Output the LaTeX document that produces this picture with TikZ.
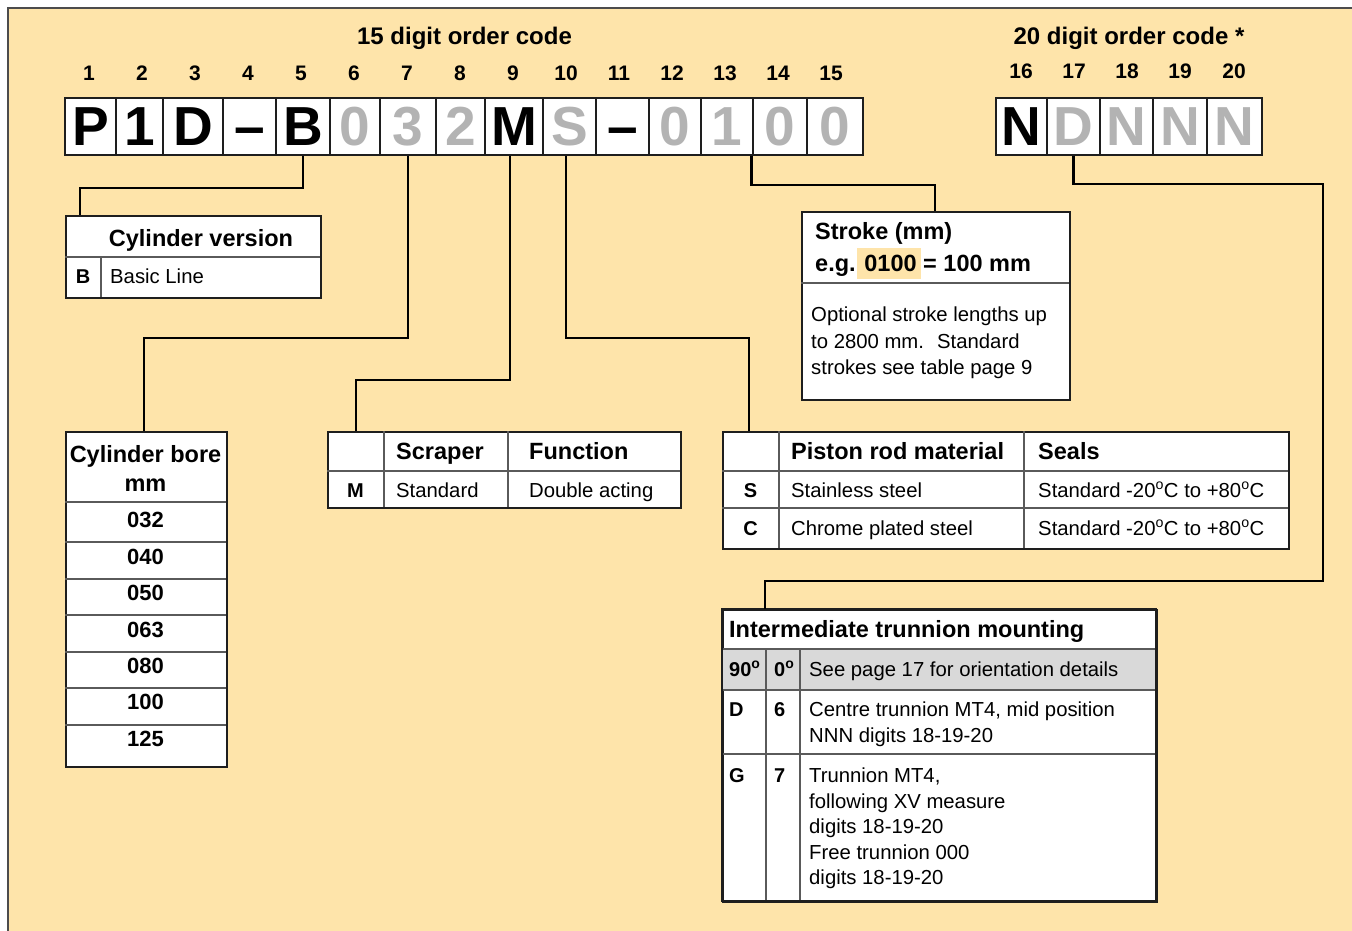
\documentclass[tikz,border=0pt]{standalone}
\usepackage{fontspec}
\setmainfont{Liberation Sans}
\usetikzlibrary{calc}
\definecolor{bg}{RGB}{254,228,170}
\definecolor{digitgray}{RGB}{179,179,179}
\definecolor{rowgray}{RGB}{217,217,217}
\definecolor{edge}{RGB}{30,30,30}
\definecolor{sepc}{RGB}{90,90,90}
\newcommand\dg{\textsuperscript{o}}
\begin{document}
\begin{tikzpicture}[x=1pt,y=-1pt,
  cell/.style={draw=edge, fill=white, line width=1.2pt, minimum height=57pt, inner sep=0pt,
    text height=39pt, text depth=0pt, font=\fontsize{55}{60}\selectfont\bfseries},
  num/.style={anchor=base, inner sep=0pt, font=\fontsize{21}{25}\selectfont\bfseries},
  ttl/.style={anchor=base, inner sep=0pt, font=\fontsize{24}{28}\selectfont\bfseries},
  tbox/.style={draw=edge, fill=white, line width=1.6pt, anchor=north west, inner sep=0pt},
  sepl/.style={draw=sepc, line width=1.2pt},
  hb/.style={anchor=base west, inner sep=0pt, font=\fontsize{23.5}{27}\selectfont\bfseries},
  hbc/.style={anchor=base, inner sep=0pt, font=\fontsize{23.5}{27}\selectfont\bfseries},
  tx/.style={anchor=base west, inner sep=0pt, font=\fontsize{20.3}{24}\selectfont},
  cb/.style={anchor=base, inner sep=0pt, font=\fontsize{20}{24}\selectfont\bfseries},
  cbw/.style={anchor=base west, inner sep=0pt, font=\fontsize{20}{24}\selectfont\bfseries},
  bv/.style={anchor=base, inner sep=0pt, font=\fontsize{22}{26}\selectfont\bfseries},
  conn/.style={draw=black, line width=2.6pt, line join=miter}
]
\useasboundingbox (0,0) rectangle (1352,931);
\fill[white] (0,0) rectangle (1352,931);
\fill[bg] (8,8) rectangle (1352,931);
\draw[line width=1.5pt, black!70] (8,931) -- (8,8) -- (1352,8);

% titles
\node[ttl] (t15) at (464.5,45) {15 digit order code};
\node[ttl] (t20) at (1129,45) {20 digit order code *};

% digit numbers
\foreach \i in {1,...,15}
  \node[num] (n\i) at ({89+53*(\i-1)},81) {\i};
\foreach \i/\x in {16/1021,17/1074,18/1127,19/1180,20/1234}
  \node[num] (n\i) at (\x,79) {\i};

% code cells
\foreach \i/\l/\r/\t/\c in {1/65/116/P/black, 2/116/163/1/black, 3/163/223/D/black,
    4/223/276/--/black, 5/276/330/B/black, 6/330/380/0/digitgray, 7/380/436/3/digitgray,
    8/436/485/2/digitgray, 9/485/543/M/black, 10/543/596/S/digitgray, 11/596/649/--/black,
    12/649/701/0/digitgray, 13/701/753/1/digitgray, 14/753/807/0/digitgray, 15/807/863/0/digitgray,
    16/996/1047/N/black, 17/1047/1100/D/digitgray, 18/1100/1153/N/digitgray,
    19/1153/1207/N/digitgray, 20/1207/1262/N/digitgray}
  \node[cell, minimum width={\r-\l}, text=\c] (c\i) at ({(\l+\r)/2},126.5) {\t};

% ---------- Cylinder version
\node[tbox, minimum width=255pt, minimum height=82pt] (cv) at (65,215) {};
\draw[sepl] (65,257) -- (320,257);
\draw[sepl] (101,257) -- (101,297);
\node[hbc] (cvt) at (201,246) {Cylinder version};
\node[cb] (cvb) at (83,283) {B};
\node[tx] (cvl) at (110,283) {Basic Line};

% ---------- Stroke
\node[tbox, minimum width=268pt, minimum height=188pt] (sk) at (801,211) {};
\draw[sepl] (801,283) -- (1069,283);
\fill[bg] (857,248) rectangle (921,279);
\node[hb] (skt) at (815,239) {Stroke (mm)};
\node[hb] (ske) at (815,271) {e.g. 0100 = 100 mm};
\node[tx] (sk1) at (811,321) {Optional stroke lengths up};
\node[tx] (sk2) at (811,348) {to 2800 mm.~ Standard};
\node[tx] (sk3) at (811,374) {strokes see table page 9};

% ---------- Cylinder bore
\node[tbox, minimum width=161pt, minimum height=335pt] (bo) at (65,431) {};
\foreach \y in {502,542,579,615,652,688,725}
  \draw[sepl] (65,\y) -- (226,\y);
\node[hbc] (bot) at (145.5,462) {Cylinder bore};
\node[hbc] (bom) at (145.5,491) {mm};
\foreach \y/\v in {527/032,564/040,600/050,637/063,673/080,709/100,746/125}
  \node[bv] (bo\v) at (145.5,\y) {\v};

% ---------- Scraper
\node[tbox, minimum width=353pt, minimum height=76pt] (sc) at (327,431) {};
\draw[sepl] (327,471) -- (680,471);
\draw[sepl] (384,431) -- (384,507);
\draw[sepl] (508,431) -- (508,507);
\node[hb] (sch1) at (396,459) {Scraper};
\node[hb] (sch2) at (529,459) {Function};
\node[cb] (scm) at (355.5,497) {M};
\node[tx] (scs) at (396,497) {Standard};
\node[tx] (scd) at (529,497) {Double acting};

% ---------- Piston rod material
\node[tbox, minimum width=566pt, minimum height=117pt] (pr) at (722,431) {};
\draw[sepl] (722,471) -- (1288,471);
\draw[sepl] (722,508) -- (1288,508);
\draw[sepl] (779,431) -- (779,548);
\draw[sepl] (1024,431) -- (1024,548);
\node[hb] (prh1) at (791,459) {Piston rod material};
\node[hb] (prh2) at (1038,459) {Seals};
\node[cb] (prs) at (750.5,497) {S};
\node[tx] (prs1) at (791,497) {Stainless steel};
\node[tx] (prs2) at (1038,497) {Standard -20\dg C to +80\dg C};
\node[cb] (prc) at (750.5,535) {C};
\node[tx] (prc1) at (791,535) {Chrome plated steel};
\node[tx] (prc2) at (1038,535) {Standard -20\dg C to +80\dg C};

% ---------- Intermediate trunnion mounting
\node[tbox, minimum width=434pt, minimum height=292pt] (tr) at (722,609) {};
\fill[rowgray] (723,649) rectangle (1155,690);
\draw[sepl] (722,649) -- (1156,649);
\draw[sepl] (722,690) -- (1156,690);
\draw[sepl] (722,754) -- (1156,754);
\draw[sepl] (766,649) -- (766,901);
\draw[sepl] (800,649) -- (800,901);
\draw[edge, line width=1.6pt] (722,609) rectangle (1156,901);
\node[hb] (trt) at (729,637) {Intermediate trunnion mounting};
\node[cbw] (tr90) at (729,676) {90\dg};
\node[cbw] (tr0) at (774,676) {0\dg};
\node[tx] (trs) at (809,676) {See page 17 for orientation details};
\node[cbw] (trd) at (729,716) {D};
\node[cbw] (tr6) at (774,716) {6};
\node[tx] (trd1) at (809,716) {Centre trunnion MT4, mid position};
\node[tx] (trd2) at (809,742) {NNN digits 18-19-20};
\node[cbw] (trg) at (729,782) {G};
\node[cbw] (tr7) at (774,782) {7};
\node[tx] (trg1) at (809,782) {Trunnion MT4,};
\node[tx] (trg2) at (809,808) {following XV measure};
\node[tx] (trg3) at (809,833) {digits 18-19-20};
\node[tx] (trg4) at (809,859) {Free trunnion 000};
\node[tx] (trg5) at (809,884) {digits 18-19-20};

% ---------- connectors
\coordinate (k1) at (80,188);
\draw[conn] (c5.south) |- (k1) -- (k1 |- cv.north);
\coordinate (k2) at (144,338);
\draw[conn] (c7.south) |- (k2) -- (k2 |- bo.north);
\coordinate (k3) at (356,380);
\draw[conn] ([xshift=-4pt]c9.south) |- (k3) -- (k3 |- sc.north);
\coordinate (k4) at (749,338);
\draw[conn] ([xshift=-3.5pt]c10.south) |- (k4) -- (k4 |- pr.north);
\coordinate (k5) at (935,185);
\draw[conn] ([xshift=-1pt]c14.south west) |- (k5) -- (k5 |- sk.north);
\coordinate (k6) at (1323,184);
\coordinate (k7) at (765,581);
\draw[conn] (c17.south) |- (k6) |- (k7) -- (k7 |- tr.north);
\end{tikzpicture}
\end{document}
